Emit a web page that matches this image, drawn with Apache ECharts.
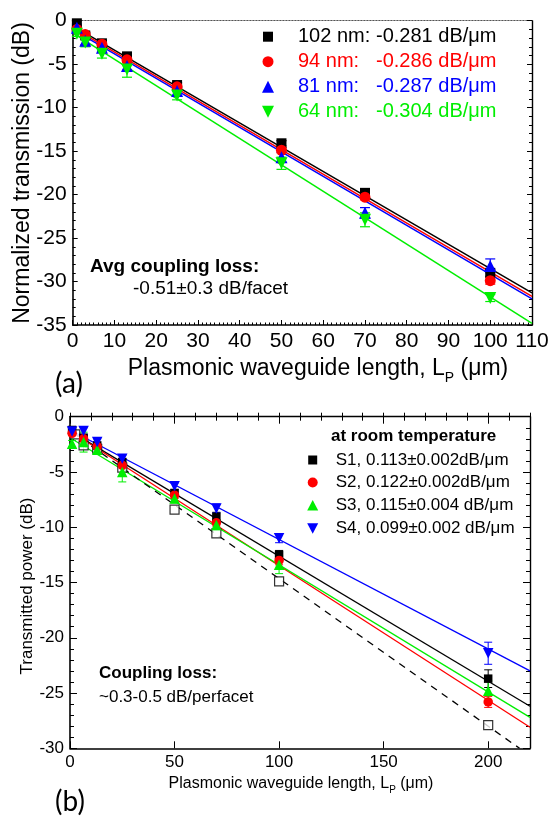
<!DOCTYPE html>
<html><head><meta charset="utf-8">
<script src="https://cdn.jsdelivr.net/npm/echarts@6/dist/echarts.min.js"></script>
<style>html,body{margin:0;padding:0;background:#fff}#c{width:550px;height:816px}</style>
</head><body><div id="c"></div>
<script>
// ---------- Panel (a) data ----------
const lengthsA = [1, 3, 7, 13, 25, 50, 70, 100];
const namesA = ['102 nm:', '94 nm:', '81 nm:', '64 nm:'];
const slopeLabelsA = ['-0.281 dB/\u03bcm', '-0.286 dB/\u03bcm', '-0.287 dB/\u03bcm', '-0.304 dB/\u03bcm'];
const y102 = [-0.3, -1.7, -2.6, -4.1, -7.4, -14.1, -19.8, -29.0];
const y94  = [-1.0, -1.6, -2.7, -4.5, -7.6, -14.9, -20.3, -29.9];
const y81  = [-0.8, -2.3, -3.1, -5.2, -8.1, -15.7, -22.1, -28.2];
const y64  = [-1.5, -2.5, -3.8, -5.6, -8.6, -16.4, -22.9, -31.9];
const e102 = [0.3, 0.3, 0.3, 0.3, 0.3, 0.3, 0.3, 0.4];
const e94  = [0.3, 0.3, 0.3, 0.3, 0.4, 0.3, 0.3, 0.4];
const e81  = [0.4, 0.5, 0.4, 0.5, 0.5, 0.6, 0.6, 0.8];
const e64  = [0.3, 0.5, 0.5, 0.9, 0.5, 0.7, 0.8, 0.4];
const fit102 = [[0, -0.6], [110, -31.3]];
const fit94  = [[0, -0.8], [110, -31.7]];
const fit81  = [[0, -1.0], [110, -32.0]];
const fit64  = [[0, -1.4], [110, -34.8]];
const xTicksA = {min: 0, max: 110, step: 10};
const yTicksA = {min: -35, max: 0, step: 5};

// ---------- Panel (b) data ----------
const lengthsB = [1, 6.5, 13, 25, 50, 70, 100, 200];
const lengthsBRef = [2.5, 6.5, 13, 25, 50, 70, 100, 200];
const namesB = ['S1, 0.113\u00b10.002dB/\u03bcm', 'S2, 0.122\u00b10.002dB/\u03bcm', 'S3, 0.115\u00b10.004 dB/\u03bcm', 'S4, 0.099\u00b10.002 dB/\u03bcm'];
const yS1 = [-1.2, -1.9, -2.6, -4.1, -6.9, -9.05, -12.5, -23.7];
const yS2 = [-1.5, -2.0, -2.7, -4.4, -7.1, -9.6, -13.0, -25.8];
const yS3 = [-2.45, -2.3, -3.0, -5.0, -7.4, -9.8, -13.4, -24.8];
const yS4 = [-1.35, -1.3, -2.3, -3.8, -6.3, -8.3, -11.0, -21.4];
const yRef = [-1.6, -2.6, -2.9, -4.6, -8.4, -10.55, -14.9, -27.9];
const eS1 = [0.2, 0.2, 0.2, 0.3, 0.3, 0.4, 0.4, 0.8];
const eS2 = [0.2, 0.2, 0.2, 0.3, 0.3, 0.3, 0.4, 0.5];
const eS3 = [0.3, 0.9, 0.3, 0.9, 0.4, 0.5, 0.8, 0.9];
const eS4 = [0.2, 0.3, 0.3, 0.3, 0.3, 0.4, 0.4, 1.0];
const fitS1 = [[0, -1.3], [220, -26.2]];
const fitS2 = [[0, -1.3], [220, -28.1]];
const fitS3 = [[0, -1.9], [220, -27.2]];
const fitS4 = [[0, -1.2], [220, -23.0]];
const fitRef = [[0, -1.3], [215, -30.0]];
const xTicksB = {min: 0, max: 220, step: 50, minor: 10};
const yTicksB = {min: -30, max: 0, step: 5};

const BLACK = '#000000', RED = '#ff0000', BLUE = '#0000ff', GREEN = '#00ee00';
const FONT = '"Liberation Sans", Arial, sans-serif';

const chart = echarts.init(document.getElementById('c'), null, {renderer: 'canvas'});

function zip(xs, ys) { return xs.map((x, i) => [x, ys[i]]); }
function zip3(xs, ys, es) { return xs.map((x, i) => [x, ys[i], es[i]]); }

function errSeries(ax, xs, ys, es, color, cap, lw) {
  return {
    type: 'custom', xAxisIndex: ax, yAxisIndex: ax === 0 ? 0 : 2, silent: true, animation: false, z: 3,
    encode: {x: 0, y: 1},
    data: zip3(xs, ys, es),
    renderItem(params, api) {
      const x = api.value(0), y = api.value(1), e = api.value(2);
      const t = api.coord([x, y + e]), b = api.coord([x, y - e]);
      const st = {stroke: color, lineWidth: lw};
      return {type: 'group', children: [
        {type: 'line', shape: {x1: t[0], y1: t[1], x2: b[0], y2: b[1]}, style: st},
        {type: 'line', shape: {x1: t[0] - cap, y1: t[1], x2: t[0] + cap, y2: t[1]}, style: st},
        {type: 'line', shape: {x1: b[0] - cap, y1: b[1], x2: b[0] + cap, y2: b[1]}, style: st}
      ]};
    }
  };
}
function fitSeries(ax, data, color, lw, type) {
  return {type: 'line', xAxisIndex: ax, yAxisIndex: ax === 0 ? 0 : 2, data: data, symbol: 'none', silent: true,
    animation: false, z: 2, lineStyle: {color: color, width: lw, type: type || 'solid'}};
}
function scatter(ax, name, xs, ys, color, symbol, size, rot, extra) {
  return Object.assign({type: 'scatter', name: name, xAxisIndex: ax, yAxisIndex: ax === 0 ? 0 : 2,
    data: zip(xs, ys), symbol: symbol, symbolSize: size, symbolRotate: rot || 0, animation: false, z: 4,
    itemStyle: {color: color, opacity: 1}}, extra || {});
}

const axLine = w => ({show: true, onZero: false, lineStyle: {color: BLACK, width: w}});

// ----- axes -----
const xAxes = [
  // 0: panel (a) bottom
  {type: 'value', gridIndex: 0, position: 'bottom', min: xTicksA.min, max: xTicksA.max, interval: xTicksA.step,
   axisLine: axLine(1.6), axisTick: {inside: true, length: 5, lineStyle: {color: BLACK, width: 1}},
   minorTick: {show: true, splitNumber: 10, length: 2.5, lineStyle: {color: BLACK, width: 1}},
   axisLabel: {fontSize: 21, fontFamily: FONT, color: BLACK, margin: 6},
   splitLine: {show: false}, minorSplitLine: {show: false}},
  // 1: panel (b) bottom (major)
  {type: 'value', gridIndex: 1, position: 'bottom', min: xTicksB.min, max: xTicksB.max, interval: xTicksB.step,
   axisLine: axLine(1.6), axisTick: {inside: true, length: 7, lineStyle: {color: BLACK, width: 1}},
   axisLabel: {fontSize: 17, fontFamily: FONT, color: BLACK, margin: 6, showMaxLabel: false,
     formatter: v => (v % xTicksB.step === 0 ? String(v) : '')},
   splitLine: {show: false}},
  // 2: panel (a) top border
  {type: 'value', gridIndex: 0, position: 'top', min: xTicksA.min, max: xTicksA.max,
   axisLine: {show: true, onZero: false, lineStyle: {color: '#555', width: 1, type: [1.5, 1.5]}},
   axisTick: {show: false}, axisLabel: {show: false}, splitLine: {show: false}},
  // 3: panel (b) bottom minor ticks
  {type: 'value', gridIndex: 1, position: 'bottom', min: xTicksB.min, max: xTicksB.max, interval: xTicksB.minor,
   axisLine: {show: false}, axisTick: {inside: true, length: 4, lineStyle: {color: BLACK, width: 1}},
   axisLabel: {show: false}, splitLine: {show: false}},
  // 4: panel (b) top major
  {type: 'value', gridIndex: 1, position: 'top', min: xTicksB.min, max: xTicksB.max, interval: xTicksB.step,
   axisLine: axLine(1.4), axisTick: {inside: true, length: 7, lineStyle: {color: BLACK, width: 1}},
   axisLabel: {show: false}, splitLine: {show: false}},
  // 5: panel (b) top minor
  {type: 'value', gridIndex: 1, position: 'top', min: xTicksB.min, max: xTicksB.max, interval: xTicksB.minor,
   axisLine: {show: false}, axisTick: {inside: true, length: 4, lineStyle: {color: BLACK, width: 1}},
   axisLabel: {show: false}, splitLine: {show: false}}
];
const yAxes = [
  // 0: panel (a) left
  {type: 'value', gridIndex: 0, position: 'left', min: yTicksA.min, max: yTicksA.max, interval: yTicksA.step,
   axisLine: axLine(1.6), axisTick: {inside: true, length: 5, lineStyle: {color: BLACK, width: 1}},
   minorTick: {show: true, splitNumber: 5, length: 3, lineStyle: {color: BLACK, width: 1}},
   axisLabel: {fontSize: 21, fontFamily: FONT, color: BLACK, margin: 6},
   splitLine: {show: false}},
  // 1: panel (a) right
  {type: 'value', gridIndex: 0, position: 'right', min: yTicksA.min, max: yTicksA.max, interval: yTicksA.step,
   axisLine: axLine(1.4), axisTick: {inside: true, length: 5, lineStyle: {color: BLACK, width: 1}},
   minorTick: {show: true, splitNumber: 5, length: 3, lineStyle: {color: BLACK, width: 1}},
   axisLabel: {show: false}, splitLine: {show: false}},
  // 2: panel (b) left
  {type: 'value', gridIndex: 1, position: 'left', min: yTicksB.min, max: yTicksB.max, interval: yTicksB.step,
   axisLine: axLine(1.6), axisTick: {inside: true, length: 7, lineStyle: {color: BLACK, width: 1}},
   minorTick: {show: true, splitNumber: 5, length: 4, lineStyle: {color: BLACK, width: 1}},
   axisLabel: {fontSize: 17, fontFamily: FONT, color: BLACK, margin: 6},
   splitLine: {show: false}},
  // 3: panel (b) right
  {type: 'value', gridIndex: 1, position: 'right', min: yTicksB.min, max: yTicksB.max, interval: yTicksB.step,
   axisLine: axLine(1.4), axisTick: {inside: true, length: 7, lineStyle: {color: BLACK, width: 1}},
   minorTick: {show: true, splitNumber: 5, length: 4, lineStyle: {color: BLACK, width: 1}},
   axisLabel: {show: false}, splitLine: {show: false}}
];

// ----- series -----
const series = [
  fitSeries(0, fit102, BLACK, 1.5), fitSeries(0, fit94, RED, 1.5), fitSeries(0, fit81, BLUE, 1.5), fitSeries(0, fit64, GREEN, 1.5),
  errSeries(0, lengthsA, y102, e102, BLACK, 5, 1.2), errSeries(0, lengthsA, y94, e94, RED, 5, 1.2),
  errSeries(0, lengthsA, y81, e81, BLUE, 5, 1.2), errSeries(0, lengthsA, y64, e64, GREEN, 5, 1.2),
  scatter(0, namesA[0], lengthsA, y102, BLACK, 'rect', 10),
  scatter(0, namesA[1], lengthsA, y94, RED, 'circle', 11),
  scatter(0, namesA[2], lengthsA, y81, BLUE, 'triangle', 12),
  scatter(0, namesA[3], lengthsA, y64, GREEN, 'triangle', 12, 180),

  fitSeries(1, fitS1, BLACK, 1.3), fitSeries(1, fitS2, RED, 1.3), fitSeries(1, fitS3, GREEN, 1.3), fitSeries(1, fitS4, BLUE, 1.3),
  fitSeries(1, fitRef, BLACK, 1.3, [7, 6]),
  errSeries(1, lengthsB, yS1, eS1, BLACK, 4, 1), errSeries(1, lengthsB, yS2, eS2, RED, 4, 1),
  errSeries(1, lengthsB, yS3, eS3, GREEN, 4, 1), errSeries(1, lengthsB, yS4, eS4, BLUE, 4, 1),
  scatter(1, 'reference', lengthsBRef, yRef, '#ffffff', 'rect', 9, 0, {itemStyle: {color: '#ffffff', borderColor: BLACK, borderWidth: 1.2}}),
  scatter(1, namesB[0], lengthsB, yS1, BLACK, 'rect', 8.5),
  scatter(1, namesB[1], lengthsB, yS2, RED, 'circle', 9.5),
  scatter(1, namesB[2], lengthsB, yS3, GREEN, 'triangle', 10.5),
  scatter(1, namesB[3], lengthsB, yS4, BLUE, 'triangle', 10.5, 180)
];

// ----- text helpers -----
const ctx = document.createElement('canvas').getContext('2d');
function tw(text, font) { ctx.font = font; return ctx.measureText(text).width; }
function txt(x, y, text, size, opts) {
  opts = opts || {};
  const font = (opts.bold ? 'bold ' : '') + size + 'px ' + (opts.family || FONT);
  return {type: 'text', x: x, y: y, rotation: opts.rot || 0, silent: true, z: 10,
    style: {text: text, font: font, fill: opts.color || BLACK,
      align: opts.align || 'left', verticalAlign: 'middle',
      textAlign: opts.align || 'left', textVerticalAlign: 'middle'}};
}
// axis title with subscript P, centered at (cx, cy)
function titleWithSub(cx, cy, size) {
  const f = size + 'px ' + FONT, fs = Math.round(size * 0.62) + 'px ' + FONT;
  const a = 'Plasmonic waveguide length, L', s = 'P', c = ' (\u03bcm)';
  const wa = tw(a, f), ws = tw(s, fs), wc = tw(c, f);
  const x0 = cx - (wa + ws + wc) / 2;
  return [
    txt(x0, cy, a, size),
    txt(x0 + wa, cy + size * 0.38, s, Math.round(size * 0.62)),
    txt(x0 + wa + ws, cy, c, size)
  ];
}

const graphics = [];
// Panel (a) texts
graphics.push(txt(23, 173, 'Normalized transmission (dB)', 23, {rot: Math.PI / 2, align: 'center'}));
graphics.push(...titleWithSub(318, 369, 23));
graphics.push(txt(69, 384, '(a)', 28, {align: 'center', family: 'Lato, "Open Sans", sans-serif'}));
graphics.push(txt(90, 267, 'Avg coupling loss:', 19, {bold: true}));
graphics.push(txt(133, 289, '-0.51\u00b10.3 dB/facet', 19));
// Panel (a) legend
const legAy = [36.7, 61.7, 86.7, 111.7], legAc = [BLACK, RED, BLUE, GREEN], lx = 268;
graphics.push({type: 'rect', shape: {x: lx - 5, y: legAy[0] - 5, width: 10, height: 10}, style: {fill: BLACK}, silent: true});
graphics.push({type: 'circle', shape: {cx: lx, cy: legAy[1], r: 5.5}, style: {fill: RED}, silent: true});
graphics.push({type: 'polygon', shape: {points: [[lx, legAy[2] - 6], [lx - 6, legAy[2] + 6], [lx + 6, legAy[2] + 6]]}, style: {fill: BLUE}, silent: true});
graphics.push({type: 'polygon', shape: {points: [[lx - 6, legAy[3] - 6], [lx + 6, legAy[3] - 6], [lx, legAy[3] + 6]]}, style: {fill: GREEN}, silent: true});
for (let i = 0; i < 4; i++) {
  graphics.push(txt(298, legAy[i], namesA[i], 20, {color: legAc[i]}));
  graphics.push(txt(376, legAy[i], slopeLabelsA[i], 20, {color: legAc[i]}));
}

// Panel (b) texts
graphics.push(txt(27, 586, 'Transmitted power (dB)', 17, {rot: Math.PI / 2, align: 'center'}));
graphics.push(...titleWithSub(301, 784, 16));
graphics.push(txt(70, 802, '(b)', 28, {align: 'center', family: 'Lato, "Open Sans", sans-serif'}));
graphics.push(txt(99, 673, 'Coupling loss:', 17, {bold: true}));
graphics.push(txt(99, 697, '~0.3-0.5 dB/perfacet', 17));
graphics.push(txt(331, 436, 'at room temperature', 17, {bold: true}));
const legBy = [460, 482.5, 505.5, 528.3], legBc = [BLACK, RED, GREEN, BLUE], bx = 312.7;
graphics.push({type: 'rect', shape: {x: bx - 4.5, y: legBy[0] - 4.5, width: 9, height: 9}, style: {fill: BLACK}, silent: true});
graphics.push({type: 'circle', shape: {cx: bx, cy: legBy[1], r: 5}, style: {fill: RED}, silent: true});
graphics.push({type: 'polygon', shape: {points: [[bx, legBy[2] - 5.5], [bx - 5.5, legBy[2] + 5], [bx + 5.5, legBy[2] + 5]]}, style: {fill: GREEN}, silent: true});
graphics.push({type: 'polygon', shape: {points: [[bx - 5.5, legBy[3] - 5], [bx + 5.5, legBy[3] - 5], [bx, legBy[3] + 5.5]]}, style: {fill: BLUE}, silent: true});
for (let i = 0; i < 4; i++) graphics.push(txt(335.7, legBy[i], namesB[i], 17));

chart.setOption({
  animation: false,
  backgroundColor: '#ffffff',
  grid: [
    {left: 72.7, top: 20.7, right: 18, bottom: 816 - 325, outerBoundsMode: 'none', containLabel: false},
    {left: 70, top: 416.7, right: 20, bottom: 816 - 748.3, outerBoundsMode: 'none', containLabel: false}
  ],
  xAxis: xAxes,
  yAxis: yAxes,
  series: series,
  graphic: graphics
});
</script>
</body></html>
